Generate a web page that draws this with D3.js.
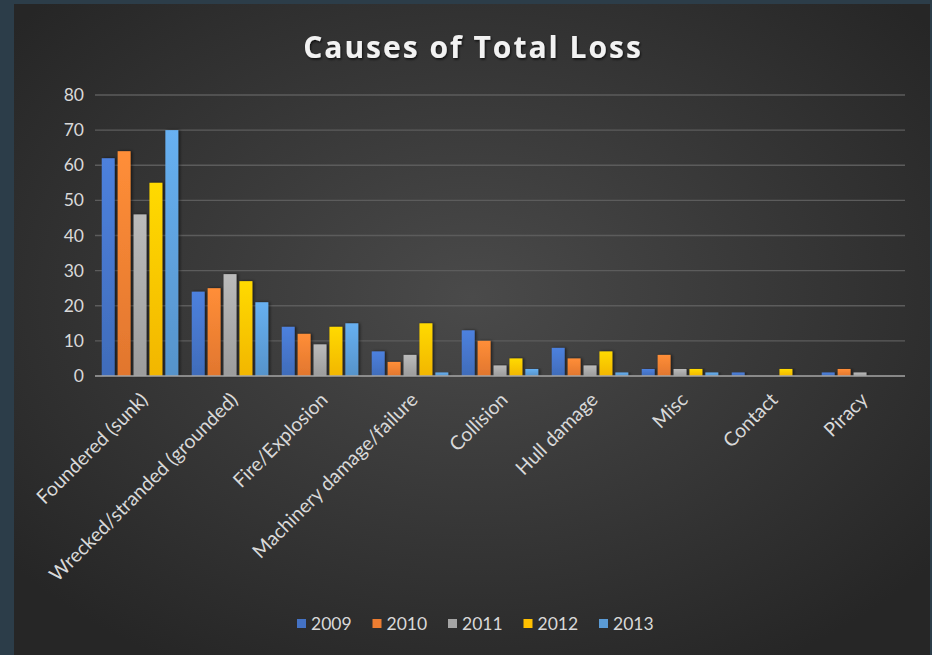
<!DOCTYPE html>
<html><head><meta charset="utf-8">
<script src="https://cdn.jsdelivr.net/npm/d3@7"></script>
<style>html,body{margin:0;padding:0;background:#2c3d49;overflow:hidden}</style>
</head><body>
<svg id="c" width="932" height="655"></svg>
<script>
const categories = ["Foundered (sunk)","Wrecked/stranded (grounded)","Fire/Explosion","Machinery damage/failure","Collision","Hull damage","Misc","Contact","Piracy"];
const seriesNames = ["2009","2010","2011","2012","2013"];
const v2009 = [62,24,14,7,13,8,2,1,1];
const v2010 = [64,25,12,4,10,5,6,0,2];
const v2011 = [46,29,9,6,3,3,2,0,1];
const v2012 = [55,27,14,15,5,7,2,2,0];
const v2013 = [70,21,15,1,2,1,1,0,0];
const yTicks = [0,10,20,30,40,50,60,70,80];
const colors = ["#4472C4","#ED7D31","#A5A5A5","#FFC000","#5B9BD5"];
const series = [v2009,v2010,v2011,v2012,v2013];

const svg = d3.select("#c");
const defs = svg.append("defs");
const bg = defs.append("radialGradient").attr("id","bg").attr("cx","50%").attr("cy","45%").attr("r","65%");
bg.append("stop").attr("offset","0%").attr("stop-color","#4a4a4a");
bg.append("stop").attr("offset","100%").attr("stop-color","#262626");
colors.forEach((c,i)=>{
  const g = defs.append("linearGradient").attr("id","g"+i).attr("x1",0).attr("x2",0).attr("y1",0).attr("y2",1);
  g.append("stop").attr("offset","0%").attr("stop-color",d3.color(c).brighter(0.35));
  g.append("stop").attr("offset","100%").attr("stop-color",d3.color(c).darker(0.15));
});
const sh = defs.append("filter").attr("id","sh").attr("x","-30%").attr("y","-10%").attr("width","160%").attr("height","130%");
sh.append("feDropShadow").attr("dx",1.5).attr("dy",0).attr("stdDeviation",1.5).attr("flood-color","#000").attr("flood-opacity",0.6);
const tsh = defs.append("filter").attr("id","tsh");
tsh.append("feDropShadow").attr("dx",1).attr("dy",1.5).attr("stdDeviation",1).attr("flood-color","#000").attr("flood-opacity",0.7);

svg.append("rect").attr("x",14).attr("y",4).attr("width",916).attr("height",651).attr("fill","url(#bg)");

const font = "Lato, 'Open Sans', sans-serif";
svg.append("text").attr("x",473).attr("y",58).attr("text-anchor","middle")
  .attr("font-family","'Open Sans', sans-serif").attr("font-weight","bold").attr("font-size",30)
  .attr("fill","#f2f2f2").attr("letter-spacing",2).attr("filter","url(#tsh)").text("Causes of Total Loss");

const x0 = d3.scaleBand().domain(categories).range([95,905]).paddingInner(0.15).paddingOuter(0.075);
const x1 = d3.scaleBand().domain(seriesNames).range([0,x0.bandwidth()]).paddingInner(0.19);
const y = d3.scaleLinear().domain([0,80]).range([376,95]);

const grid = svg.append("g");
grid.selectAll("line").data(yTicks.filter(d=>d>0)).join("line")
  .attr("x1",95).attr("x2",905).attr("y1",d=>y(d)).attr("y2",d=>y(d))
  .attr("stroke","#5c5c5c").attr("stroke-width",1.3);

const yAxis = svg.append("g").attr("transform","translate(95,0)")
  .call(d3.axisLeft(y).tickValues(yTicks).tickSize(0).tickPadding(11));
yAxis.select(".domain").remove();
yAxis.selectAll("text").attr("font-family",font).attr("font-size",17.5).attr("fill","#d9d9d9");

const groups = svg.append("g").selectAll("g").data(categories).join("g")
  .attr("transform",d=>`translate(${x0(d)},0)`);
groups.selectAll("rect").data((d,i)=>series.map((s,j)=>({k:seriesNames[j],v:s[i],j})).filter(e=>e.v>0)).join("rect")
  .attr("x",e=>x1(e.k)).attr("width",x1.bandwidth())
  .attr("y",e=>y(e.v)).attr("height",e=>y(0)-y(e.v))
  .attr("fill",e=>`url(#g${e.j})`).attr("filter","url(#sh)");

svg.append("line").attr("x1",95).attr("x2",905).attr("y1",y(0)).attr("y2",y(0))
  .attr("stroke","#a6a6a6").attr("stroke-width",1.5);

const xAxis = svg.append("g").attr("transform",`translate(0,${y(0)})`)
  .call(d3.axisBottom(x0).tickSize(0).tickPadding(0));
xAxis.select(".domain").remove();
xAxis.selectAll("text").attr("font-family",font).attr("font-size",19.5).attr("fill","#d9d9d9")
  .attr("text-anchor","end").attr("dy",0).attr("y",0)
  .attr("transform","translate(9,25) rotate(-45)");

const leg = svg.append("g").attr("transform","translate(297,624)");
const items = leg.selectAll("g").data(seriesNames).join("g").attr("transform",(d,i)=>`translate(${i*75.5},0)`);
items.append("rect").attr("x",0).attr("y",-5).attr("width",9).attr("height",9).attr("fill",(d,i)=>colors[i]);
items.append("text").attr("x",14).attr("y",0).attr("dy","0.35em").attr("font-family",font).attr("font-size",17.5)
  .attr("fill","#d9d9d9").text(d=>d);
</script>
</body></html>
